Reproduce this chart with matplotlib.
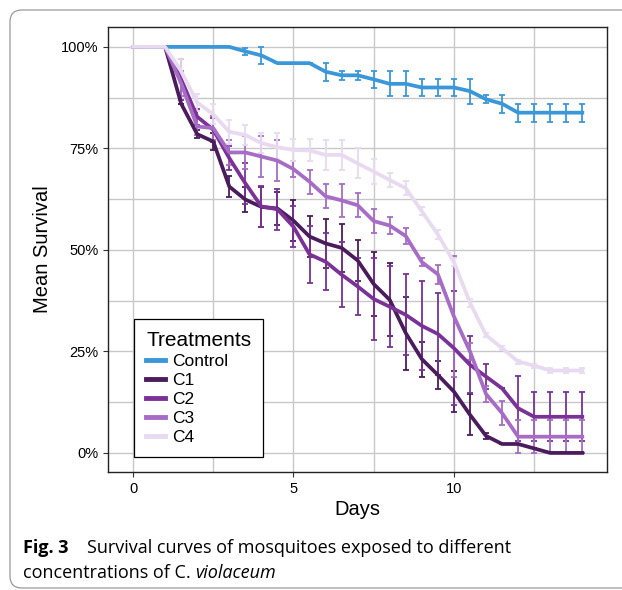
import matplotlib
matplotlib.use("Agg")
import matplotlib.pyplot as plt
from matplotlib.patches import FancyBboxPatch
from matplotlib.lines import Line2D
from matplotlib.ticker import FixedLocator

# Дни наблюдения
days = [0, 0.5, 1, 1.5, 2, 2.5, 3, 3.5, 4, 4.5, 5, 5.5, 6, 6.5, 7, 7.5,
        8, 8.5, 9, 9.5, 10, 10.5, 11, 11.5, 12, 12.5, 13, 13.5, 14]

# Средняя выживаемость (%) по группам
control = [100, 100, 100, 100, 100, 100, 100, 98.9, 97.9, 96.0, 96.0, 96.0, 93.9, 93.0, 93.0,
           92.0, 90.9, 90.9, 90.0, 90.0, 90.0, 89.1, 87.1, 86.0, 83.8, 83.8, 83.8, 83.8, 83.8]
c1 = [100, 100, 100, 86, 78.5, 76.7, 65.6, 62.4, 60.6, 60.2, 57.2, 53.3, 51.6, 50.5, 47.4,
      41.6, 37.7, 29.5, 23.1, 19.2, 15.1, 9.4, 4.2, 2.2, 2.2, 1.1, 0, 0, 0]
c2 = [100, 100, 100, 92, 82.8, 79.6, 72.6, 66.4, 60.7, 60.0, 55.7, 48.9, 47.1, 43.9, 41.0,
      37.9, 36.0, 34.0, 31.3, 29.3, 25.8, 21.7, 18.8, 15.9, 11.0, 8.9, 8.9, 8.9, 8.9]
c3 = [100, 100, 100, 91, 80.4, 80.0, 74.0, 74.0, 73.0, 72.0, 69.9, 66.8, 63.2, 62.2, 61.0,
      57.1, 56.0, 53.4, 47.0, 44.0, 33.6, 25.0, 14.5, 9.8, 4.0, 4.0, 4.0, 4.0, 4.0]
c4 = [100, 100, 100, 94, 86.3, 83.4, 79.1, 78.3, 76.3, 75.3, 74.6, 74.5, 73.4, 73.4, 71.3,
      69.3, 67.2, 65.2, 59.5, 53.8, 47.0, 37.0, 29.0, 25.8, 22.5, 21.5, 20.3, 20.3, 20.3]

# Стандартные ошибки
control_err = [0, 0, 0, 0, 0, 0, 0, 0.8, 2.0, 0, 0, 0, 2.2, 1.1, 1.1,
               2.1, 3.1, 3.1, 2.1, 2.1, 2.1, 3.1, 1.0, 2.2, 2.2, 2.2, 2.2, 2.2, 2.2]
c1_err = [0, 0, 0, 0, 1, 2, 2.5, 3, 5, 4, 5, 5, 6, 6, 5,
          8, 9, 9, 4.3, 3.5, 5.1, 5.1, 0.8, 0, 0, 0, 0, 0, 0]
c2_err = [0, 0, 0, 5, 2, 3, 3, 5, 5, 5, 5, 7, 7, 8, 7,
          10, 10, 10, 11, 10, 14, 7, 3, 0, 8, 6, 6, 6, 6]
c3_err = [0, 0, 0, 3, 2, 3, 3, 4, 5, 5, 2, 3, 3, 4, 3,
          3, 2.2, 2, 1, 2.4, 15, 2, 2, 3, 4, 4, 4, 4, 4]
c4_err = [0, 0, 0, 3, 2, 2.5, 3, 2.5, 2.5, 3.5, 2.7, 2.7, 3.6, 3.6, 3.7,
          3, 1.8, 1.8, 1, 1, 1, 1, 0.5, 0.5, 0.5, 0.5, 0.5, 0.5, 0.5]

labels = ["Control", "C1", "C2", "C3", "C4"]
colors = ["#3A97D9", "#4A1C5C", "#7A3296", "#A66CC6", "#E8DAF0"]
series = [control, c1, c2, c3, c4]
errors = [control_err, c1_err, c2_err, c3_err, c4_err]

plt.rcParams['font.family'] = ['Liberation Sans', 'DejaVu Sans']

fig = plt.figure(figsize=(6.22, 5.90), dpi=100)
ax = fig.add_axes([108 / 622, 1 - 472 / 590, 499 / 622, 445 / 590])

for y, e, c in zip(series, errors, colors):
    ax.errorbar(days, y, yerr=e, color=c, lw=2.7, elinewidth=1.3, capsize=2,
                capthick=1.3)

ax.set_xlim(-0.78, 14.77)
ax.set_ylim(-4.7, 104.9)
ax.set_xticks([0, 5, 10])
ax.set_yticks([0, 25, 50, 75, 100])
ax.set_yticklabels(["0%", "25%", "50%", "75%", "100%"])
ax.xaxis.set_minor_locator(FixedLocator([2.5, 7.5, 12.5]))
ax.yaxis.set_minor_locator(FixedLocator([12.5, 37.5, 62.5, 87.5]))
ax.tick_params(which='minor', length=0)
ax.tick_params(which='major', length=3.5, width=0.8, labelsize=10.5, colors='#333333',
               labelcolor='black')
ax.grid(True, which='both', color='#C8C8C8', lw=1.0)
ax.set_axisbelow(True)
for s in ax.spines.values():
    s.set_color('#222222')
    s.set_linewidth(1.0)

ax.set_xlabel("Days", fontsize=14.5, labelpad=3)
ax.set_ylabel("Mean Survival", fontsize=14.5, labelpad=6)

handles = [Line2D([0], [0], color=c, lw=3.5) for c in colors]
leg = ax.legend(handles, labels, loc='lower left', bbox_to_anchor=(0.052, 0.034),
                borderaxespad=0, title="Treatments", title_fontsize=15, fontsize=12.5,
                fancybox=False, edgecolor='black', framealpha=1, handlelength=1.1,
                handletextpad=0.4, labelspacing=0.22, borderpad=0.7)
leg.get_frame().set_linewidth(0.9)
leg._legend_box.align = "left"

# Рамка вокруг рисунка
border = FancyBboxPatch((0.10, 0.02), 6.6, 5.78, boxstyle="round,pad=0,rounding_size=0.12",
                        transform=fig.dpi_scale_trans, fill=False, edgecolor='#999999',
                        lw=0.9)
fig.patches.append(border)

# Подпись
cap_font = ['Open Sans', 'DejaVu Sans']
fig.text(23 / 622, 1 - 553 / 590, "Fig. 3", fontsize=13, fontweight='bold',
         family=cap_font, va='baseline')
fig.text(87 / 622, 1 - 553 / 590, "Survival curves of mosquitoes exposed to different",
         fontsize=13, family=cap_font, va='baseline')
t1 = fig.text(23 / 622, 1 - 578 / 590, "concentrations of C. ", fontsize=13,
              family=cap_font, va='baseline')
fig.canvas.draw()
bb = t1.get_window_extent()
fig.text(bb.x1 / fig.bbox.width, 1 - 578 / 590, "violaceum", fontsize=13,
         family=cap_font, style='italic', va='baseline')

fig.savefig("out.png", dpi=100)
